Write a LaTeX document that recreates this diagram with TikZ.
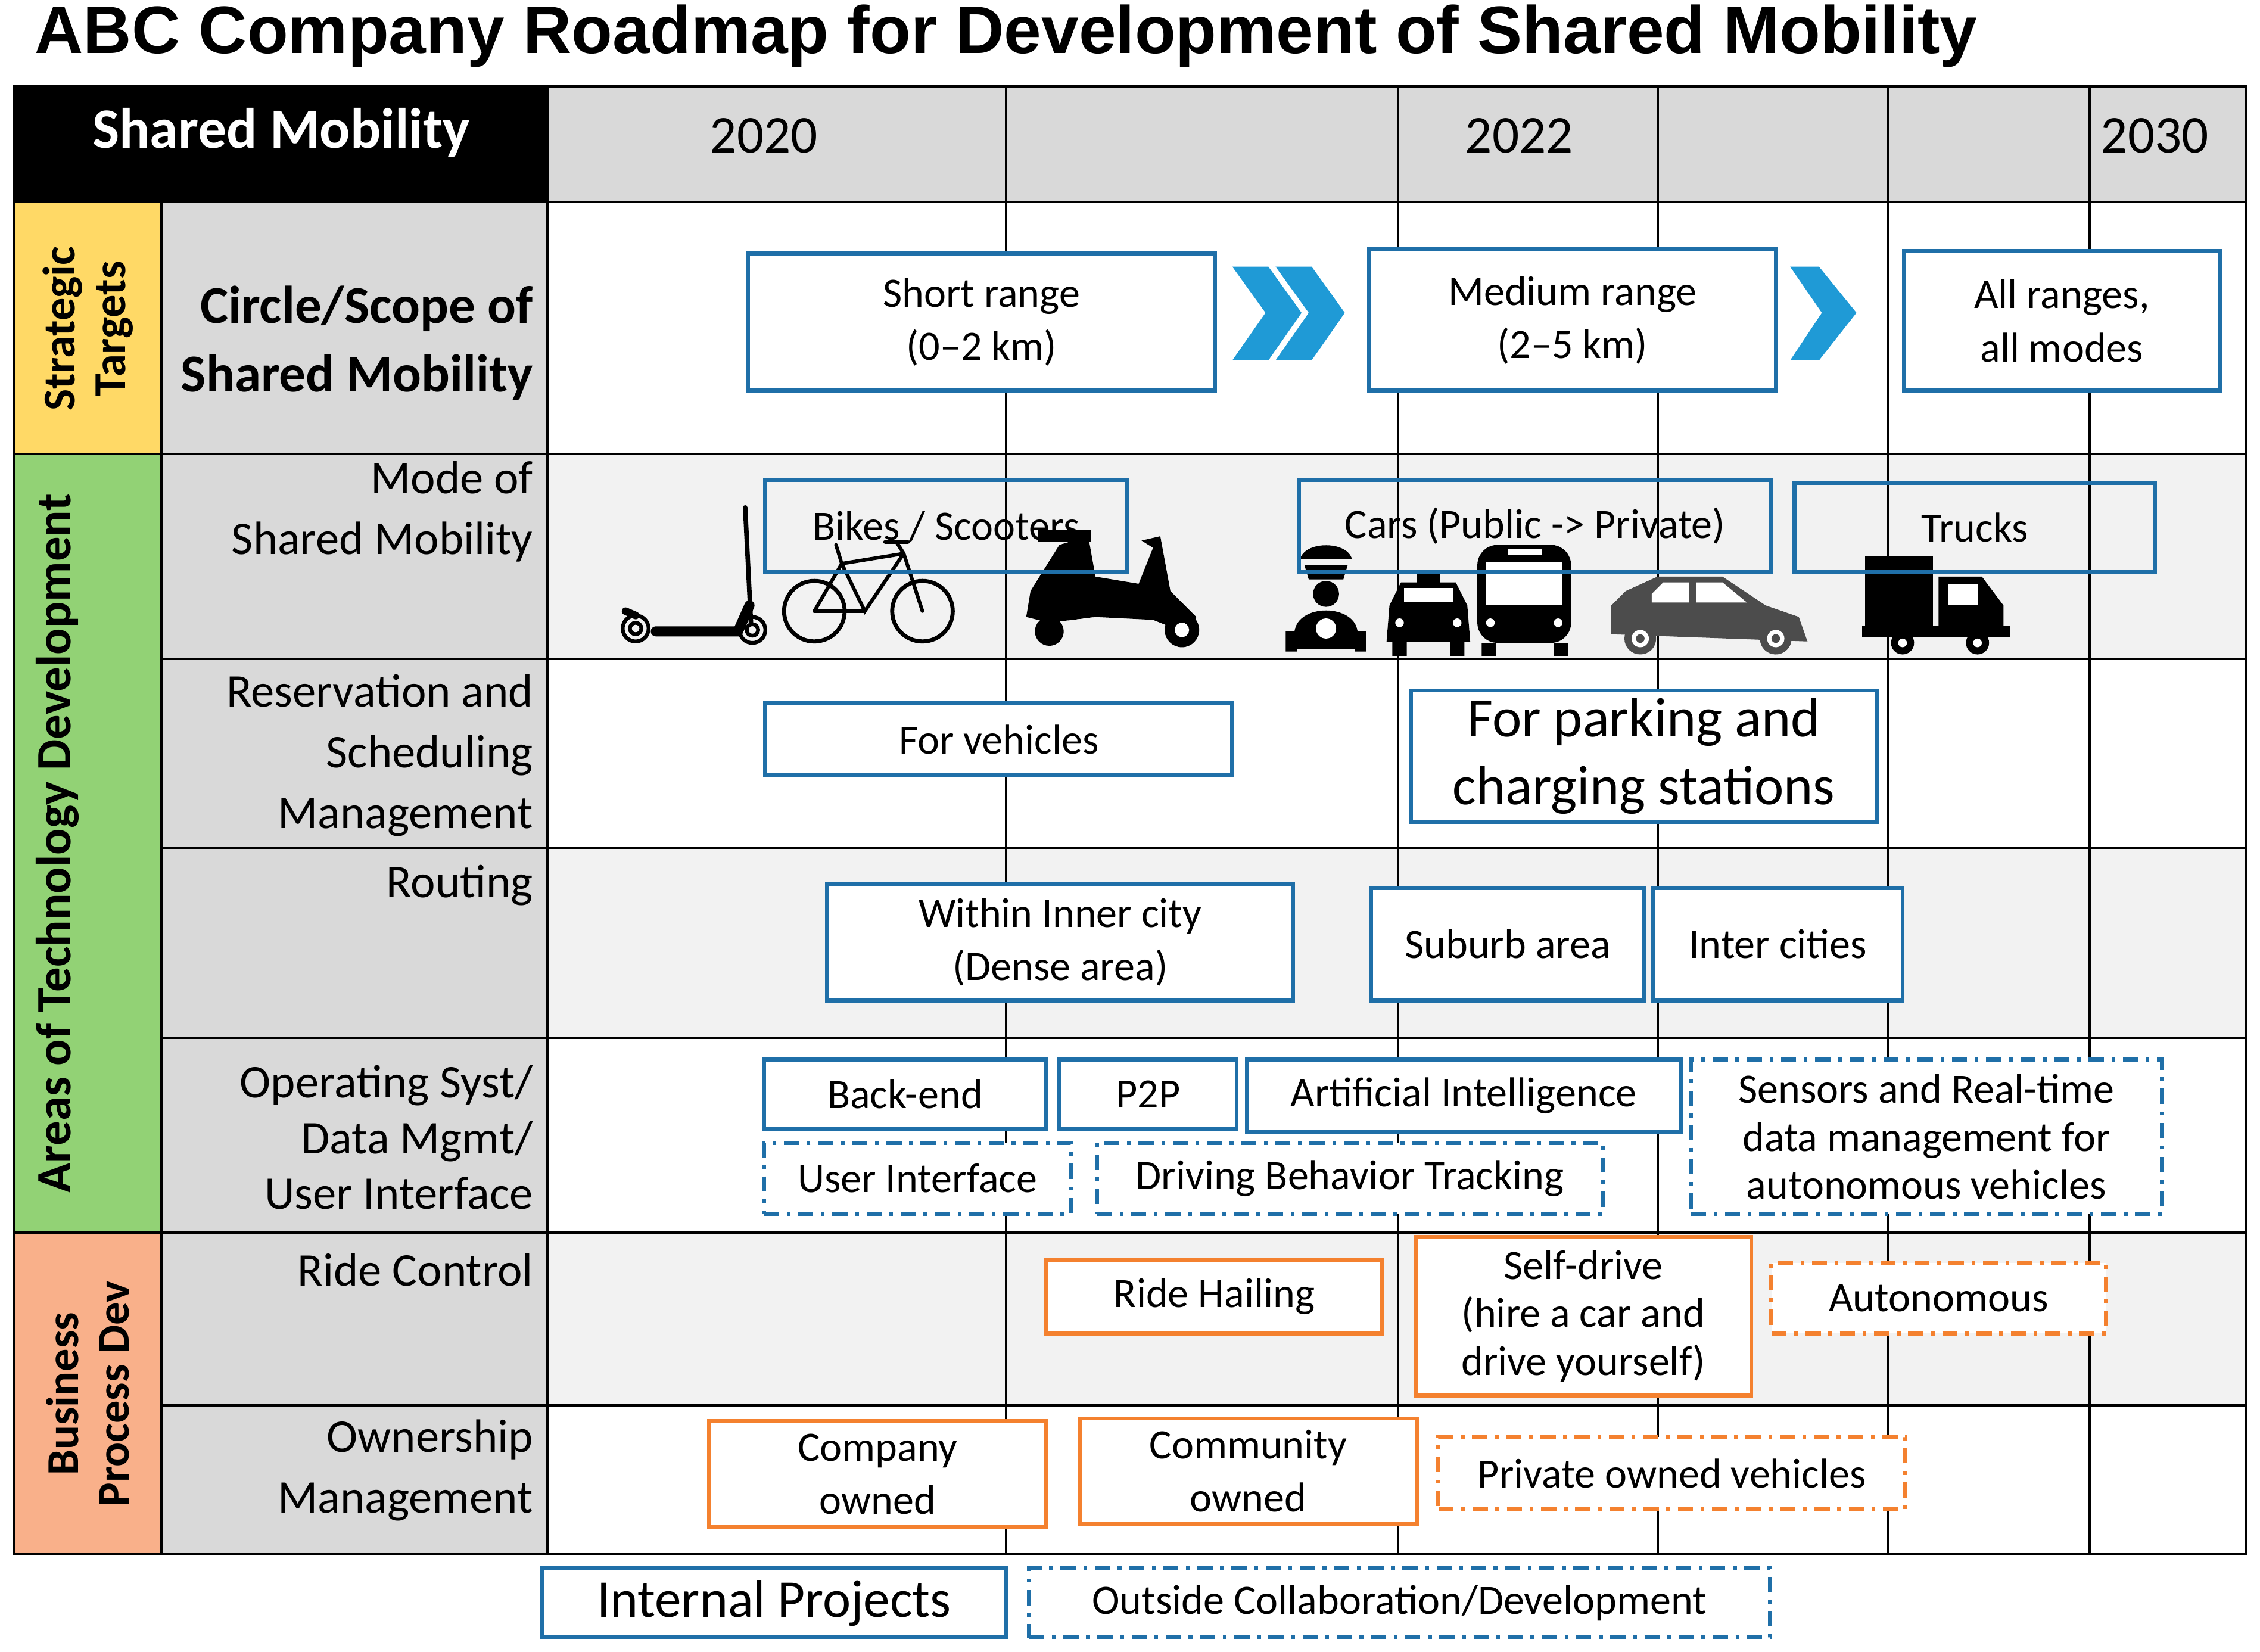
\documentclass[tikz,border=0pt]{standalone}
\usepackage{fontspec}
\setmainfont{Carlito}
\newfontfamily\arialf{Liberation Sans}
\begin{document}
\definecolor{bblue}{HTML}{1F6FA8}
\definecolor{borange}{HTML}{F4812F}
\definecolor{chev}{HTML}{1F9AD6}
\definecolor{hgrey}{HTML}{D9D9D9}
\definecolor{lgrey}{HTML}{F2F2F2}
\definecolor{cyel}{HTML}{FFD966}
\definecolor{cgrn}{HTML}{92D275}
\definecolor{corg}{HTML}{F9B08A}
\begin{tikzpicture}[x=0.02cm,y=-0.02cm,
  bbox/.style={draw=bblue,line width=1.6pt,fill=white,inner sep=0pt,align=center,font=\fontsize{16.5}{21}\selectfont},
  obox/.style={bbox,draw=borange},
  dd/.style={dash pattern=on 6pt off 3pt on 1.5pt off 3pt},
  lab/.style={anchor=east,align=right,font=\fontsize{18.5}{24}\selectfont},
  cat/.style={rotate=90,align=center,font=\fontsize{18}{20}\selectfont\bfseries},
  yr/.style={font=\fontsize{21}{24}\selectfont},
  grid/.style={line width=1pt,black}]
\useasboundingbox (0,0) rectangle (1568,1146);
\newcommand\bx[7][]{\node[#2,#1,minimum width={0.02cm*(#5-#3)},minimum height={0.02cm*(#6-#4)}] (#7) at ({(#3+#5)/2},{(#4+#6)/2})}
% title
\node[anchor=west,font=\arialf\fontsize{26.5}{30}\selectfont\bfseries] (title) at (18,25) {ABC Company Roadmap for Development of Shared Mobility};
% backgrounds
\fill[black] (10,60) rectangle (380,140);
\fill[hgrey] (380,60) rectangle (1558,140);
\fill[hgrey] (112,140) rectangle (380,1078);
\fill[lgrey] (380,315) rectangle (1558,457);
\fill[lgrey] (380,588) rectangle (1558,720);
\fill[lgrey] (380,855) rectangle (1558,975);
\fill[cyel] (10,140) rectangle (112,315);
\fill[cgrn] (10,315) rectangle (112,855);
\fill[corg] (10,855) rectangle (112,1078);
% grid
\foreach \y in {140,315,457,588,720,855,975}{\draw[grid] (112,\y) -- (1558,\y);}
\draw[grid] (10,60) rectangle (1558,1078);
\draw[grid] (10,140) -- (112,140); \draw[grid] (10,315)--(112,315); \draw[grid] (10,855)--(112,855);
\draw[grid] (112,140) -- (112,1078);
\draw[grid] (380,60) -- (380,1078);
\foreach \x in {698,970,1150,1310,1450}{\draw[grid] (\x,60) -- (\x,1078);}
% header
\node[text=white,font=\fontsize{22.5}{26}\selectfont\bfseries] (sm) at (195,92) {Shared Mobility};
\node[yr] (y20) at (530,94) {2020};
\node[yr] (y22) at (1054,94) {2022};
\node[yr] (y30) at (1495,94) {2030};
% categories
\node[cat] (c1) at (61,228) {Strategic\\Targets};
\node[cat,font=\fontsize{19.5}{21}\selectfont\bfseries] (c2) at (40,585) {Areas of Technology Development};
\node[cat] (c3) at (61,967) {Business\\Process Dev};
% row labels
\node[lab,font=\fontsize{21}{27}\selectfont\bfseries] (l1) at (376,238) {Circle/Scope of\\Shared Mobility};
\node[lab] (l2) at (376,355) {Mode of\\Shared Mobility};
\node[lab,font=\fontsize{18.5}{24}\selectfont] (l3) at (376,524) {Reservation and\\Scheduling\\Management};
\node[lab] (l4) at (376,614) {Routing};
\node[lab,font=\fontsize{18.5}{22}\selectfont] (l5) at (376,789) {Operating Syst/\\Data Mgmt/\\User Interface};
\node[lab] (l6) at (376,881) {Ride Control};
\node[lab] (l7) at (376,1020) {Ownership\\Management};
% strategic
\bx{bbox}{519}{176}{843}{271}{s1} {Short range\\(0--2 km)};
\bx{bbox}{950}{173}{1232}{271}{s2} {Medium range\\(2--5 km)};
\bx{bbox}{1321}{174}{1540}{271}{s3} {All ranges,\\all modes};
\foreach \dx in {0,30}{\fill[chev] (855+\dx,185) -- (880+\dx,185) -- (903+\dx,217) -- (880+\dx,250) -- (855+\dx,250) -- (878+\dx,217) -- cycle;}
\fill[chev] (1242,185) -- (1262,185) -- (1288,217) -- (1262,250) -- (1242,250) -- (1264,217) -- cycle;
% icons
\begin{scope}[line cap=round]
\draw[line width=1.8pt] (517,352) -- (521,432);
\draw[line width=4pt] (455,438) -- (512,438) -- (520,420);
\draw[line width=1.5pt] (441,436) circle (9) (441,436) circle (4);
\draw[line width=1.5pt] (522,437) circle (9) (522,437) circle (4);
\draw[line width=3pt] (434,424) -- (441,427);
\draw[line width=1.6pt] (565,424) circle (21) (640,424) circle (21);
\draw[line width=1.4pt] (565,424) -- (584,391) -- (627,384) -- (640,424) (584,391) -- (600,424) -- (627,384) (565,424) -- (600,424);
\draw[line width=1.4pt] (580,378) -- (584,391) (622,376) -- (627,384) (614,376)--(630,376);
\end{scope}
\fill (715,410) -- (735,378) -- (755,372) -- (760,400) -- (790,405) -- (800,380) -- (792,375) -- (805,372) -- (812,410) -- (830,428) -- (825,440) -- (800,430) -- (760,428) -- (728,432) -- (712,428) -- cycle;
\fill (728,438) circle (10) (820,437) circle (12);
\fill[white] (820,437) circle (5);
\fill (720,368) rectangle (757,376);
\fill (905,392) -- (935,392) -- (932,402) -- (908,402) -- cycle;
\fill (902,388) .. controls (905,375) and (935,375) .. (938,388) -- cycle;
\fill (920,412) circle (9);
\fill (898,440) .. controls (898,418) and (942,418) .. (942,440) -- (942,450) -- (898,450) -- cycle;
\fill[white] (920,436) circle (7);
\fill (892,438) rectangle (900,452) (940,438) rectangle (948,452);
\fill (964,420) -- (972,404) -- (1010,404) -- (1018,420) -- (1020,445) -- (962,445) -- cycle;
\fill (983,396) rectangle (999,404);
\fill[white] (974,408) rectangle (1008,418);
\fill[white] (971,432) circle (3) (1011,432) circle (3);
\fill (966,445) rectangle (976,455) (1006,445) rectangle (1016,455);
\fill[rounded corners=8pt] (1025,378) rectangle (1090,446);
\fill[white] (1031,390) rectangle (1084,420);
\fill[white] (1046,381) rectangle (1070,385);
\fill[white] (1034,432) circle (3) (1081,432) circle (3);
\fill (1028,446) rectangle (1038,455) (1078,446) rectangle (1088,455);
\fill[black!70] (1118,440) -- (1118,420) -- (1128,410) -- (1150,400) -- (1195,400) -- (1225,420) -- (1248,428) -- (1254,445) -- cycle;
\fill[white] (1146,412) -- (1154,404) -- (1172,404) -- (1172,418) -- (1146,418) -- cycle;
\fill[white] (1177,404) -- (1195,404) -- (1212,418) -- (1177,418) -- cycle;
\fill[black!70] (1138,443) circle (11) (1232,443) circle (11);
\fill[white] (1138,443) circle (6) (1232,443) circle (6);
\fill[black!70] (1138,443) circle (3) (1232,443) circle (3);
\fill (1294,386) rectangle (1341,434);
\fill (1345,400) -- (1375,400) -- (1390,420) -- (1390,440) -- (1345,440) -- cycle;
\fill[white] (1352,405) rectangle (1372,420);
\fill (1292,434) rectangle (1395,442);
\fill (1320,446) circle (8) (1372,446) circle (8);
\fill[white] (1320,446) circle (3) (1372,446) circle (3);
% mode boxes
\node[draw=bblue,line width=1.6pt,minimum width={0.02cm*251},minimum height={0.02cm*64},font=\fontsize{16.5}{21}\selectfont] (m1) at (656.5,365) {Bikes / Scooters};
\node[draw=bblue,line width=1.6pt,minimum width={0.02cm*328},minimum height={0.02cm*64},font=\fontsize{16.5}{21}\selectfont] (m2) at (1065,365) {Cars (Public -> Private)};
\node[draw=bblue,line width=1.6pt,minimum width={0.02cm*250},minimum height={0.02cm*62},font=\fontsize{16.5}{21}\selectfont] (m3) at (1370,366) {Trucks};
% reservation
\bx{bbox}{531}{488}{855}{538}{r1} {For vehicles};
\bx[font=\fontsize{22}{27}\selectfont]{bbox}{979}{479}{1302}{570}{r2} {For parking and\\charging stations};
% routing
\bx{bbox}{574}{613}{897}{694}{ro1} {Within Inner city\\(Dense area)};
\bx{bbox}{951}{616}{1141}{694}{ro2} {Suburb area};
\bx{bbox}{1147}{616}{1320}{694}{ro3} {Inter cities};
% OS
\bx{bbox}{530}{735}{726}{783}{o1} {Back-end};
\bx{bbox}{735}{735}{858}{783}{o2} {P2P};
\bx{bbox}{865}{735}{1166}{785}{o3} {Artificial Intelligence};
\bx[dd,font=\fontsize{16.5}{19}\selectfont]{bbox}{1173}{735}{1500}{842}{o4} {Sensors and Real-time\\data management for\\autonomous vehicles};
\bx[dd]{bbox}{530}{793}{743}{842}{o5} {User Interface};
\bx[dd]{bbox}{761}{793}{1112}{842}{o6} {Driving Behavior Tracking};
% ride control
\bx{obox}{726}{874}{959}{925}{rc1} {Ride Hailing};
\bx[font=\fontsize{16.5}{19}\selectfont]{obox}{982}{858}{1215}{968}{rc2} {Self-drive\\(hire a car and\\drive yourself)};
\bx[dd]{obox}{1229}{876}{1461}{925}{rc3} {Autonomous};
% ownership
\bx{obox}{492}{986}{726}{1059}{w1} {Company\\owned};
\bx{obox}{749}{984}{983}{1057}{w2} {Community\\owned};
\bx[dd]{obox}{998}{997}{1322}{1047}{w3} {Private owned vehicles};
% legend
\bx[font=\fontsize{21}{24}\selectfont]{bbox}{376}{1088}{698}{1136}{lg1} {Internal Projects};
\bx[dd]{bbox}{714}{1088}{1228}{1136}{lg2} {Outside Collaboration/Development};
\end{tikzpicture}
\end{document}
